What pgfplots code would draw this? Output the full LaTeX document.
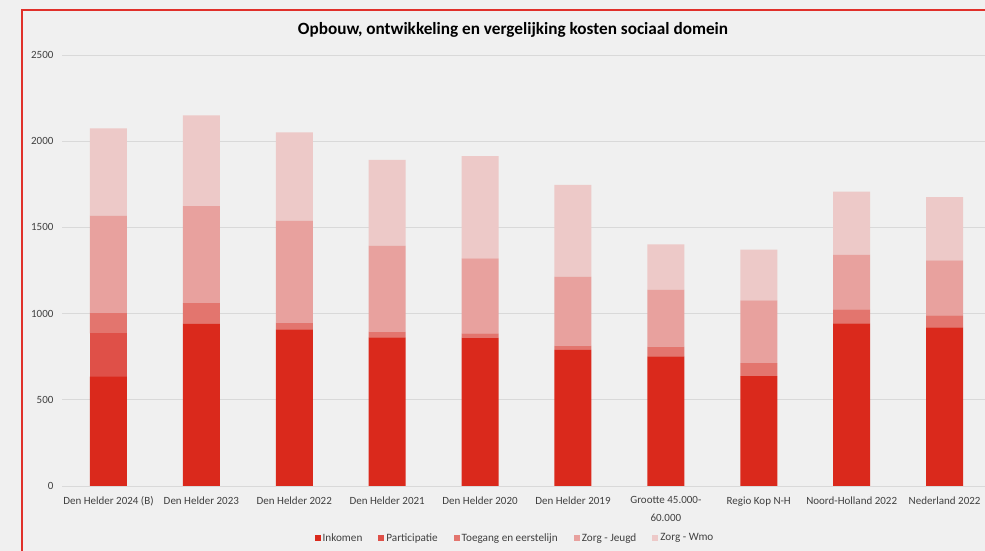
\documentclass[border=0pt]{standalone}
\usepackage{pgfplots}
\pgfplotsset{compat=1.18}
\usepackage{fontspec}
\setmainfont{Carlito}
\definecolor{bg}{HTML}{F0F0F0}
\definecolor{frame}{HTML}{E0302A}
\definecolor{cInk}{HTML}{DA291C}
\definecolor{cPar}{HTML}{DF5048}
\definecolor{cToe}{HTML}{E3756E}
\definecolor{cJeu}{HTML}{E8A19E}
\definecolor{cWmo}{HTML}{EDC9C8}
\definecolor{txt}{HTML}{404040}
\definecolor{grd}{HTML}{D9D9D9}
\begin{document}
\begin{tikzpicture}[x=1pt,y=1pt]
\useasboundingbox (0,0) rectangle (985,551);
\clip (0,0) rectangle (985,551);
\fill[bg] (0,0) rectangle (985,551);
\draw[frame, line width=1.2pt] (22,-10) -- (22,541) -- (1000,541);
\node[font=\fontsize{17.2}{20}\selectfont\bfseries, text=black] at (513,521) {Opbouw, ontwikkeling en vergelijking kosten sociaal domein};
\begin{axis}[
  at={(62pt,65pt)}, anchor=south west,
  scale only axis, width=923pt, height=431pt,
  ybar stacked, bar width=37pt,
  xmin=-0.5, xmax=9.435, ymin=0, ymax=2500,
  axis x line=bottom, axis y line=left,
  axis line style={draw=none},
  ymajorgrids, grid style={grd, line width=0.9pt},
  ytick={0,500,1000,1500,2000,2500},
  xtick={0,...,9},
  xticklabels={Den Helder 2024 (B),Den Helder 2023,Den Helder 2022,Den Helder 2021,Den Helder 2020,Den Helder 2019,{Grootte 45.000-\\60.000},Regio Kop N-H,Noord-Holland 2022,Nederland 2022},
  xticklabel style={align=center, font=\fontsize{11}{17.5}\selectfont, text=txt, yshift=-7pt},
  yticklabel style={font=\fontsize{11}{12}\selectfont, text=txt, xshift=-5pt},
  /pgf/number format/assume math mode=true,
  scaled y ticks=false, yticklabel={\pgfmathprintnumber[fixed,1000 sep={}]{\tick}},
  major tick length=0pt,
  legend columns=5,
  legend style={at={(axis description cs:0.4908,-0.1206)}, anchor=center, draw=none, fill=none,
    font=\fontsize{11.2}{12}\selectfont, text=txt,
    /tikz/every even column/.append style={column sep=14pt}},
  legend image code/.code={\fill[#1] (0pt,-3pt) rectangle (6pt,3pt);},
]
\addplot[fill=cInk, draw=none] coordinates {(0,634) (1,940) (2,909) (3,862) (4,860) (5,789) (6,752) (7,638) (8,944) (9,920)};
\addplot[fill=cPar, draw=none] coordinates {(0,252) (1,0) (2,0) (3,0) (4,0) (5,0) (6,0) (7,0) (8,0) (9,0)};
\addplot[fill=cToe, draw=none] coordinates {(0,119) (1,121) (2,38) (3,33) (4,26) (5,25) (6,56) (7,75) (8,81) (9,70)};
\addplot[fill=cJeu, draw=none] coordinates {(0,563) (1,563) (2,592) (3,499) (4,434) (5,400) (6,331) (7,364) (8,315) (9,319)};
\addplot[fill=cWmo, draw=none] coordinates {(0,507) (1,526) (2,512) (3,497) (4,594) (5,532) (6,263) (7,294) (8,367) (9,367)};
\legend{Inkomen,Participatie,Toegang en eerstelijn,Zorg - Jeugd,Zorg - Wmo}
\end{axis}
\end{tikzpicture}
\end{document}
